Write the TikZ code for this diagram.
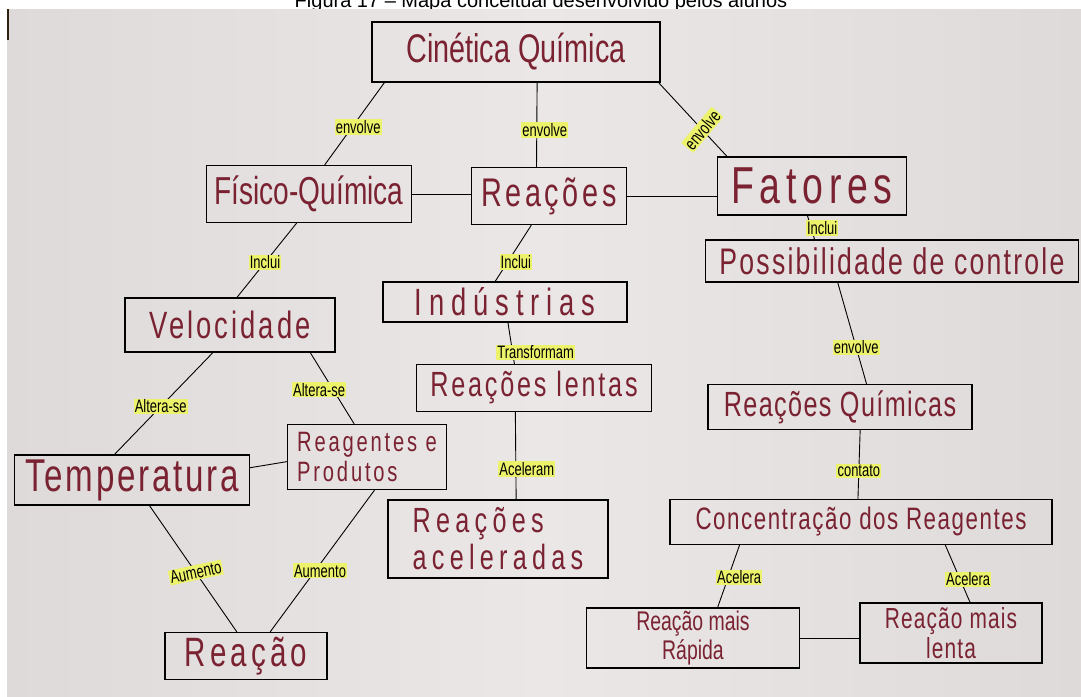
\documentclass[tikz,border=0pt]{standalone}
\usepackage{fontspec}
\setmainfont{Liberation Sans}
\newfontfamily\hand[FakeStretch=0.72]{Liberation Sans}
\usetikzlibrary{calc}
\definecolor{ink}{HTML}{7A2232}
\definecolor{hl}{HTML}{EDF26B}
\definecolor{paperA}{HTML}{DEDAD9}
\definecolor{paperB}{HTML}{EAE7E6}
\begin{document}
\begin{tikzpicture}[x=1pt,y=-1pt,
  box/.style={draw=black,line width=1.2pt,text=ink,inner sep=0pt},
  con/.style={draw=black,line width=0.9pt},
  lbl/.style={fill=hl,inner sep=1.2pt,text=black,font=\hand\fontsize{18}{20}\selectfont},
  captxt/.style={font=\fontsize{20}{22}\selectfont,text=black,anchor=base}]
\useasboundingbox (0,0) rectangle (1081,696);
\fill[white] (0,0) rectangle (1081,696);
\node[captxt] (caption) at (541,8) {Figura 17 -- Mapa conceitual desenvolvido pelos alunos};
\shade[left color=paperA,right color=paperA,middle color=paperB] (7,9) rectangle (1081,696);
\fill[black!75!brown] (7,9) rectangle (9,40);

% boxes
\node[box,minimum width=288pt,minimum height=60pt,font=\hand\fontsize{40}{42}\selectfont] (cq) at (516,52) {Cinética Química};
\node[box,minimum width=205pt,minimum height=57pt,font=\hand\fontsize{39}{42}\selectfont] (fq) at (309,194) {Físico-Química};
\node[box,minimum width=155pt,minimum height=57pt,font=\hand\addfontfeatures{LetterSpace=9}\fontsize{40}{42}\selectfont] (re) at (549,196) {Reações};
\node[box,minimum width=189pt,minimum height=58pt,font=\hand\addfontfeatures{LetterSpace=11}\fontsize{52}{54}\selectfont] (fa) at (812,186) {Fatores};
\node[box,minimum width=373pt,minimum height=42pt,font=\hand\addfontfeatures{LetterSpace=6}\fontsize{37}{39}\selectfont] (pc) at (892,261) {Possibilidade de controle};
\node[box,minimum width=244pt,minimum height=40pt,font=\hand\addfontfeatures{LetterSpace=18}\fontsize{38}{40}\selectfont] (in) at (505,302) {Indústrias};
\node[box,minimum width=210pt,minimum height=54pt,font=\hand\addfontfeatures{LetterSpace=8}\fontsize{38}{40}\selectfont] (ve) at (230,325) {Velocidade};
\node[box,minimum width=235pt,minimum height=47pt,font=\hand\addfontfeatures{LetterSpace=8}\fontsize{35}{37}\selectfont] (rl) at (534,388) {Reações lentas};
\node[box,minimum width=264pt,minimum height=45pt,font=\hand\addfontfeatures{LetterSpace=4}\fontsize{35}{37}\selectfont] (rq) at (840,407) {Reações Químicas};
\node[box,minimum width=235pt,minimum height=50pt,font=\hand\addfontfeatures{LetterSpace=6}\fontsize{46}{48}\selectfont] (te) at (132,480) {Temperatura};
\node[box,minimum width=159pt,minimum height=65pt,align=left,font=\hand\addfontfeatures{LetterSpace=10}\fontsize{28}{30}\selectfont] (rp) at (367,457) {Reagentes e\\Produtos};
\node[box,minimum width=220pt,minimum height=78pt,align=left,font=\hand\addfontfeatures{LetterSpace=15}\fontsize{35}{37}\selectfont] (ra) at (498,539) {Reações\\aceleradas};
\node[box,minimum width=382pt,minimum height=45pt,font=\hand\addfontfeatures{LetterSpace=5}\fontsize{31}{33}\selectfont] (cr) at (861,522) {Concentração dos Reagentes};
\node[box,minimum width=162pt,minimum height=47pt,font=\hand\addfontfeatures{LetterSpace=10}\fontsize{41}{43}\selectfont] (rc) at (246,656) {Reação};
\node[box,minimum width=213pt,minimum height=60pt,align=center,font=\hand\fontsize{27}{29}\selectfont] (rr) at (693,638) {Reação mais\\Rápida};
\node[box,minimum width=182pt,minimum height=60pt,align=center,font=\hand\addfontfeatures{LetterSpace=4}\fontsize{29}{30}\selectfont] (rs) at (951,633) {Reação mais\\lenta};

% connectors
\draw[con] ($(cq.south west)!0.045!(cq.south east)$) -- node[lbl,pos=0.54,xshift=6pt]{envolve} ($(fq.north west)!0.576!(fq.north east)$);
\draw[con] ($(cq.south west)!0.573!(cq.south east)$) -- node[lbl,pos=0.56,xshift=8pt]{envolve} ($(re.north west)!0.42!(re.north east)$);
\draw[con] ($(cq.south west)!0.993!(cq.south east)$) -- node[lbl,pos=0.64,rotate=50]{envolve} ($(fa.north west)!0.053!(fa.north east)$);
\draw[con] (fq.east) -- (fq.east -| re.west);
\draw[con] (re.east) -- (re.east -| fa.west);
\draw[con] ($(fq.south west)!0.44!(fq.south east)$) -- node[lbl,pos=0.53]{Inclui} ($(ve.north west)!0.533!(ve.north east)$);
\draw[con] ($(re.south west)!0.387!(re.south east)$) -- node[lbl,pos=0.65,xshift=8pt]{Inclui} ($(in.north west)!0.46!(in.north east)$);
\draw[con] ($(fa.south west)!0.476!(fa.south east)$) -- node[lbl,pos=0.52,xshift=11pt]{Inclui} ($(pc.north west)!0.293!(pc.north east)$);
\draw[con] ($(pc.south west)!0.355!(pc.south east)$) -- node[lbl,pos=0.64]{envolve} ($(rq.north west)!0.6!(rq.north east)$);
\draw[con] ($(in.south west)!0.512!(in.south east)$) -- node[lbl,pos=0.72,xshift=23pt]{Transformam} ($(rl.north west)!0.417!(rl.north east)$);
\draw[con] ($(rl.south west)!0.421!(rl.south east)$) -- node[lbl,pos=0.65,xshift=11pt]{Aceleram} ($(ra.north west)!0.582!(ra.north east)$);
\draw[con] ($(rq.south west)!0.576!(rq.south east)$) -- node[lbl,pos=0.59]{contato} ($(cr.north west)!0.492!(cr.north east)$);
\draw[con] ($(ve.south west)!0.419!(ve.south east)$) -- node[lbl,pos=0.53]{Altera-se} ($(te.north west)!0.426!(te.north east)$);
\draw[con] ($(ve.south west)!0.88!(ve.south east)$) -- node[lbl,pos=0.52,xshift=-14pt]{Altera-se} ($(rp.north west)!0.42!(rp.north east)$);
\draw[con] ($(te.north east)!0.26!(te.south east)$) -- ($(rp.north west)!0.57!(rp.south west)$);
\draw[con] ($(te.south west)!0.574!(te.south east)$) -- node[lbl,pos=0.53,rotate=12]{Aumento} ($(rc.north west)!0.444!(rc.north east)$);
\draw[con] ($(rp.south west)!0.547!(rp.south east)$) -- node[lbl,pos=0.57,xshift=5pt]{Aumento} ($(rc.north west)!0.648!(rc.north east)$);
\draw[con] ($(cr.south west)!0.183!(cr.south east)$) -- node[lbl,pos=0.52,xshift=11pt]{Acelera} ($(rr.north west)!0.615!(rr.north east)$);
\draw[con] ($(cr.south west)!0.72!(cr.south east)$) -- node[lbl,pos=0.6,xshift=8pt]{Acelera} ($(rs.north west)!0.604!(rs.north east)$);
\draw[con] (rr.east) -- (rr.east -| rs.west);
\end{tikzpicture}
\end{document}
